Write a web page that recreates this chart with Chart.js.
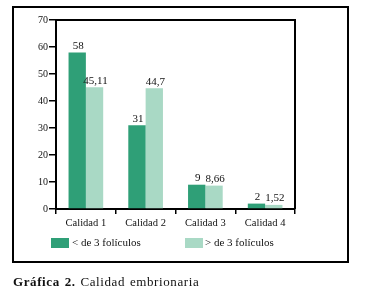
<!DOCTYPE html>
<html>
<head>
<meta charset="utf-8">
<script src="https://cdn.jsdelivr.net/npm/chart.js@4/dist/chart.umd.min.js"></script>
<style>
  html, body { margin: 0; padding: 0; background: #fff; }
  #wrap { position: relative; width: 368px; height: 290px; }
  #c { position: absolute; left: 0; top: 0; }
  #caption { position: absolute; left: 13px; top: 274px; font: 13px "Liberation Serif", serif; letter-spacing: 0.6px; word-spacing: 1px; color: #111; white-space: nowrap; }
  #caption b { font-weight: bold; }
</style>
</head>
<body>
<div id="wrap">
  <canvas id="c" width="368" height="290"></canvas>
  <div id="caption"><b>Gráfica 2.</b> Calidad embrionaria</div>
</div>
<script>
/* Gráfica 2: calidad embrionaria por número de folículos */
const categories = ["Calidad 1", "Calidad 2", "Calidad 3", "Calidad 4"];
const seriesNames = ["< de 3 folículos", "> de 3 folículos"];
const menosDe3 = [58, 31, 9, 2];
const masDe3 = [45.11, 44.7, 8.66, 1.52];
const yTicks = [0, 10, 20, 30, 40, 50, 60, 70];

const colors = ["#2f9f77", "#a9d9c5"];
const serif = "'Liberation Serif', 'DejaVu Serif', serif";
const fmt = (v) => String(v).replace(".", ",");

// frame, outer box, value labels and legend
const decor = {
  id: "decor",
  afterDraw(chart) {
    const { ctx, chartArea: a } = chart;
    ctx.save();
    ctx.strokeStyle = "#000";
    ctx.lineWidth = 2;
    ctx.strokeRect(13, 7, 335, 255);
    ctx.beginPath();
    ctx.moveTo(a.left, a.top); ctx.lineTo(a.right, a.top); ctx.lineTo(a.right, a.bottom);
    ctx.stroke();

    ctx.fillStyle = "#111";
    ctx.font = "11px " + serif;
    ctx.textAlign = "center";
    ctx.textBaseline = "bottom";
    chart.data.datasets.forEach((ds, i) => {
      chart.getDatasetMeta(i).data.forEach((bar, j) => {
        ctx.fillText(fmt(ds.data[j]), bar.x + 1, bar.y - 1);
      });
    });

    // legend
    ctx.font = "11px " + serif;
    ctx.textAlign = "left";
    ctx.textBaseline = "middle";
    const items = [[51, 72], [185, 205]];
    chart.data.datasets.forEach((ds, i) => {
      const [bx, tx] = items[i];
      ctx.fillStyle = ds.backgroundColor;
      ctx.fillRect(bx, 238, 18, 10);
      ctx.fillStyle = "#111";
      ctx.fillText(ds.label, tx, 243);
    });
    ctx.restore();
  }
};

new Chart(document.getElementById("c"), {
  type: "bar",
  data: {
    labels: categories,
    datasets: [
      { label: seriesNames[0], data: menosDe3, backgroundColor: colors[0] },
      { label: seriesNames[1], data: masDe3, backgroundColor: colors[1] }
    ]
  },
  options: {
    responsive: false,
    animation: false,
    events: [],
    layout: { padding: { left: 20, top: 20, right: 73, bottom: 61 } },
    datasets: { bar: { barPercentage: 1, categoryPercentage: 0.58 } },
    plugins: { legend: { display: false }, tooltip: { enabled: false } },
    scales: {
      x: {
        afterFit: (s) => { s.height = 20; },
        grid: { drawOnChartArea: false, offset: true, tickLength: 5, color: "#000", lineWidth: 1.5 },
        border: { color: "#000", width: 2 },
        ticks: { color: "#111", font: { family: serif, size: 10.5 }, padding: 3, maxRotation: 0 }
      },
      y: {
        min: yTicks[0], max: yTicks[yTicks.length - 1],
        afterFit: (s) => { s.width = 36; },
        afterBuildTicks: (s) => { s.ticks = yTicks.map((v) => ({ value: v })); },
        grid: { drawOnChartArea: false, tickLength: 7, color: "#000", lineWidth: 1.5 },
        border: { color: "#000", width: 2 },
        ticks: { color: "#111", font: { family: serif, size: 10 }, padding: 1 }
      }
    }
  },
  plugins: [decor]
});
</script>
</body>
</html>
